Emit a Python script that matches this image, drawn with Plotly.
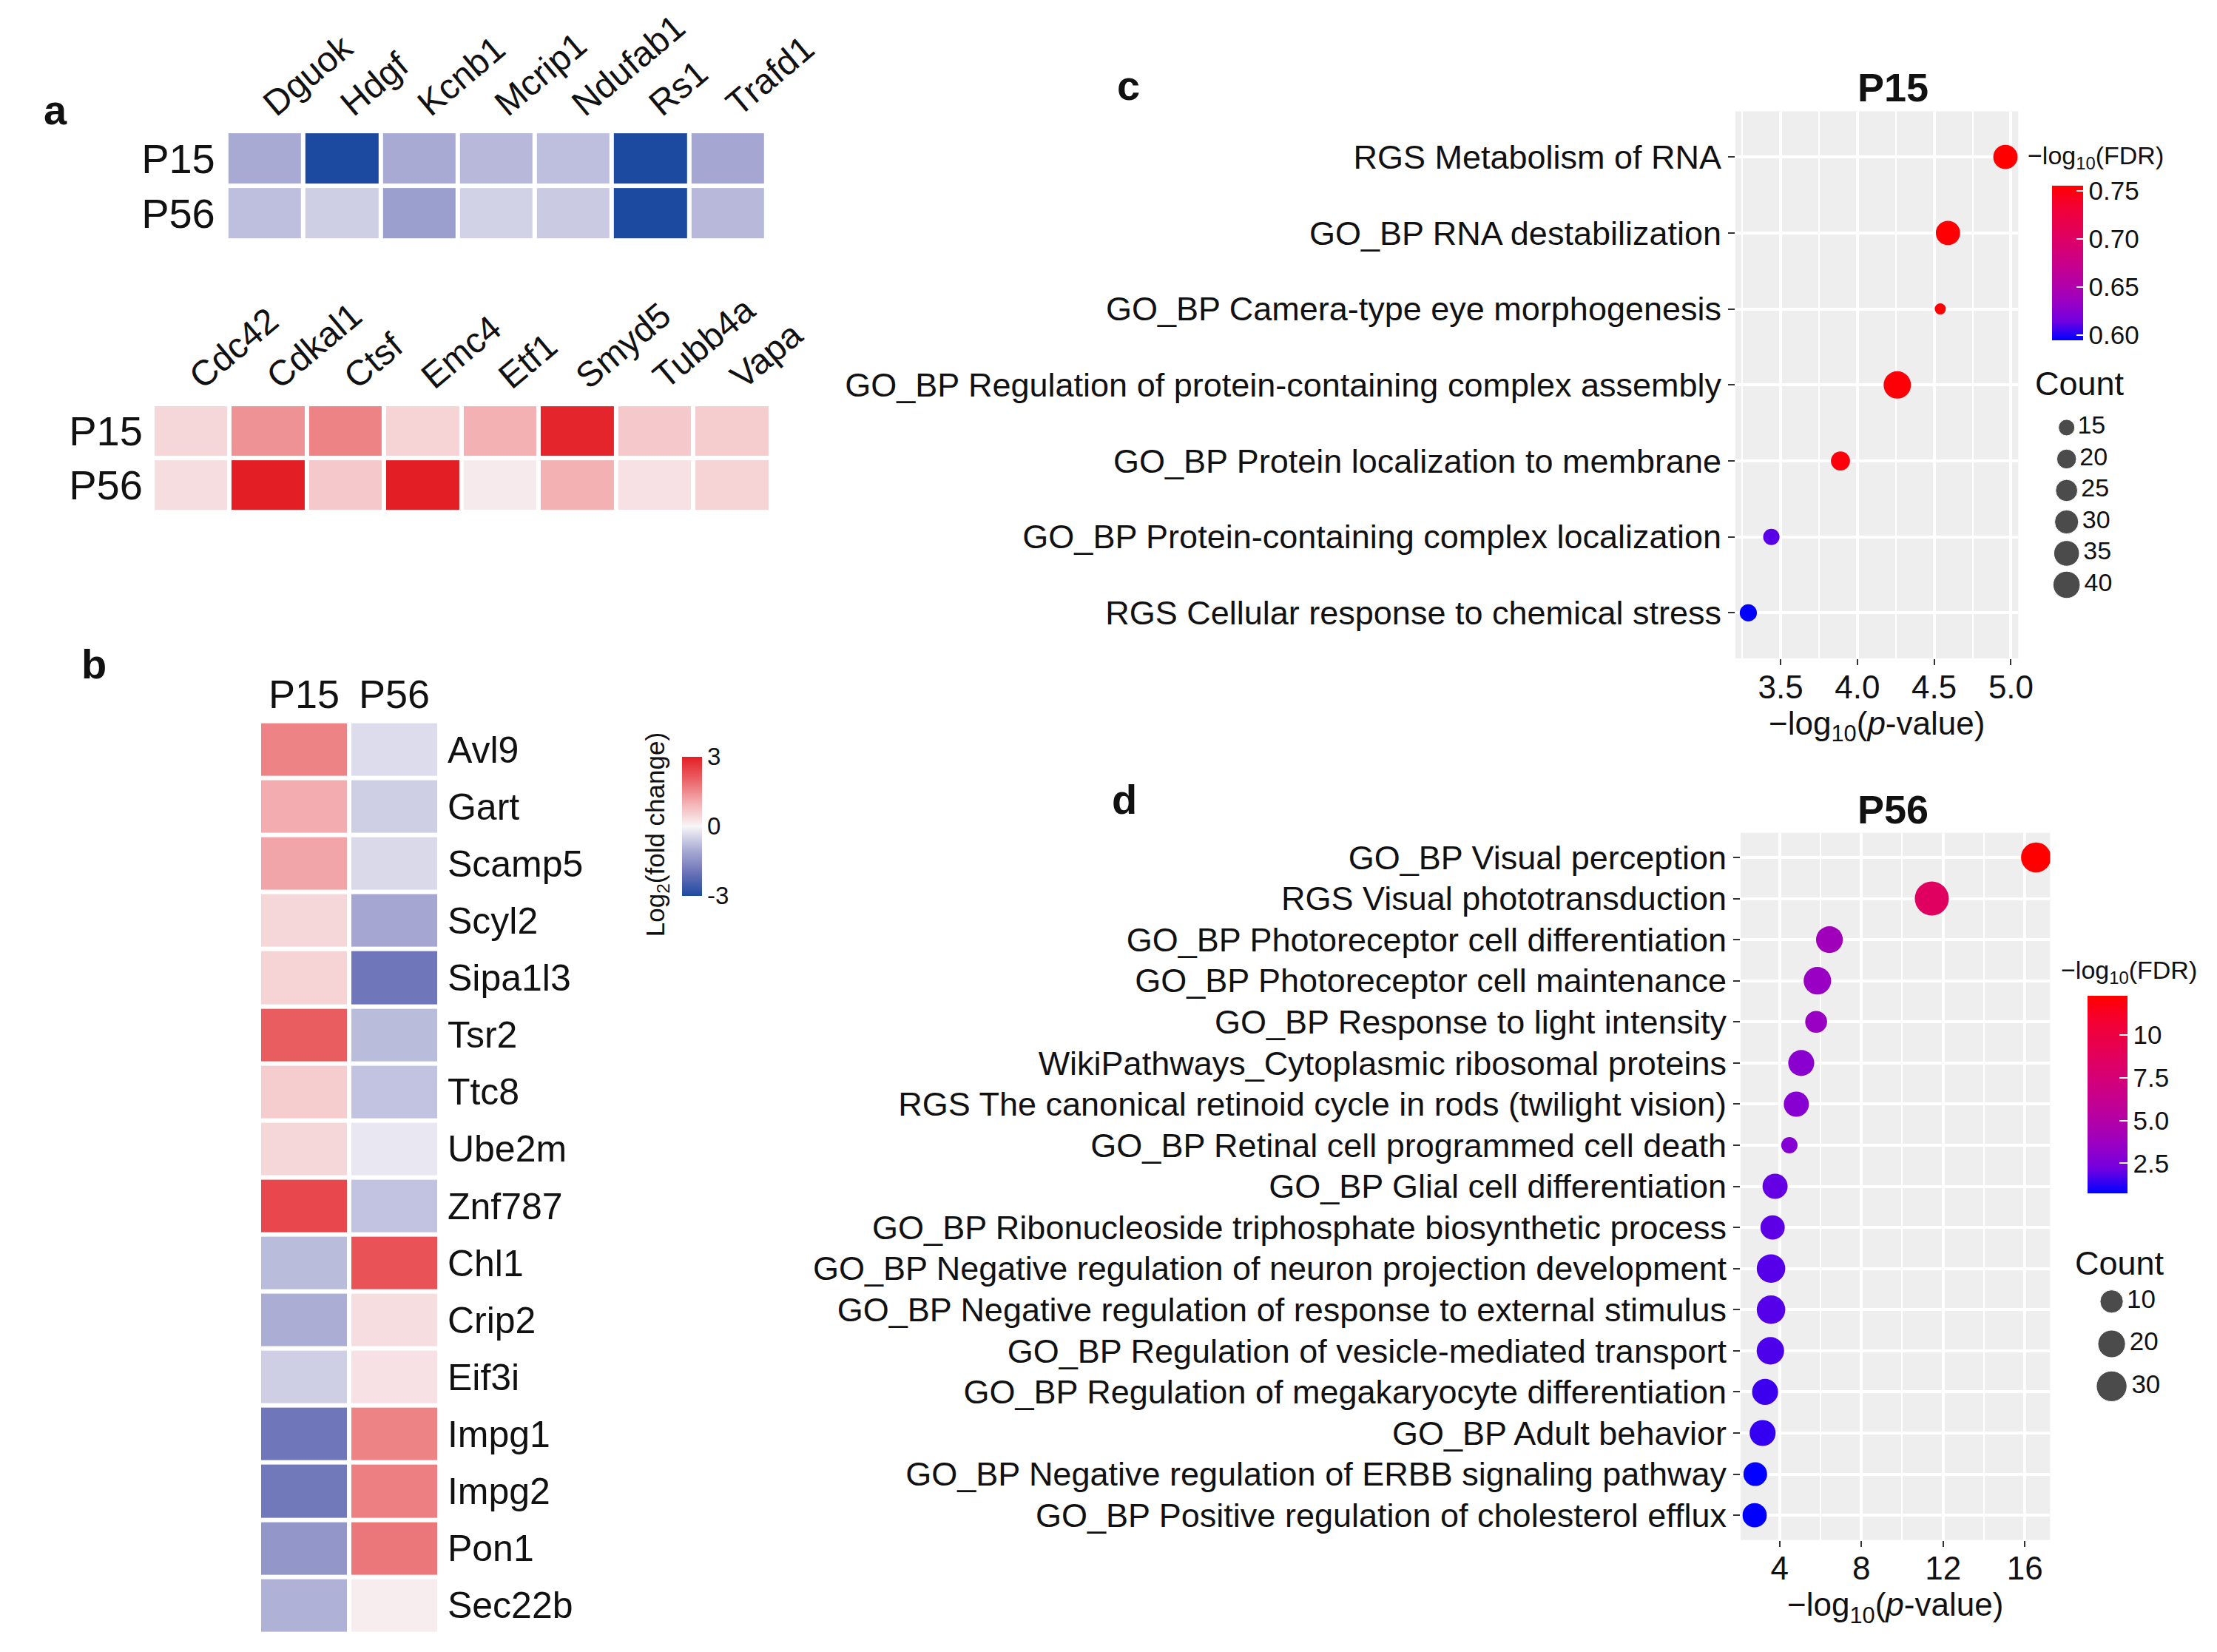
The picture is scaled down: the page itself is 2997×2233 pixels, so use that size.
import math
import plotly.graph_objects as go

W, H = 2997, 2233
DW, DH = 1560.0, 1162.0   # layout grid (reference at half scale)
S = W / DW


def fx(d):
    return d / DW


def fy(d):
    return 1 - d / DH


# ------------------------------------------------------------------ data
stages = ["P15", "P56"]

a_top_genes = ["Dguok", "Hdgf", "Kcnb1", "Mcrip1", "Ndufab1", "Rs1", "Trafd1"]
a_top_p15 = [-1.05, -3.0, -1.05, -0.85, -0.75, -3.0, -1.1]
a_top_p56 = [-0.75, -0.55, -1.25, -0.5, -0.6, -3.0, -0.85]

a_bot_genes = ["Cdc42", "Cdkal1", "Ctsf", "Emc4", "Etf1", "Smyd5", "Tubb4a", "Vapa"]
a_bot_p15 = [0.45, 1.4, 1.6, 0.5, 1.0, 2.9, 0.65, 0.6]
a_bot_p56 = [0.35, 3.0, 0.65, 3.0, 0.18, 1.0, 0.3, 0.5]

b_genes = ["Avl9", "Gart", "Scamp5", "Scyl2", "Sipa1l3", "Tsr2", "Ttc8", "Ube2m",
           "Znf787", "Chl1", "Crip2", "Eif3i", "Impg1", "Impg2", "Pon1", "Sec22b"]
b_p15 = [1.6, 1.05, 1.15, 0.45, 0.5, 2.1, 0.6, 0.45, 2.4, -0.8, -1.0, -0.55, -1.95, -1.9, -1.4, -0.95]
b_p56 = [-0.35, -0.55, -0.4, -1.1, -1.95, -0.8, -0.7, -0.2, -0.7, 2.25, 0.35, 0.3, 1.6, 1.65, 1.75, 0.15]
fc_ticks = [-3, 0, 3]

c_terms = ["RGS Metabolism of RNA",
           "GO_BP RNA destabilization",
           "GO_BP Camera-type eye morphogenesis",
           "GO_BP Regulation of protein-containing complex assembly",
           "GO_BP Protein localization to membrane",
           "GO_BP Protein-containing complex localization",
           "RGS Cellular response to chemical stress"]
c_pval = [4.964, 4.59, 4.54, 4.26, 3.89, 3.44, 3.29]
c_fdr = [0.7548, 0.7535, 0.753, 0.752, 0.750, 0.61, 0.5944]
c_count = [31, 31, 12, 41, 19, 15, 16]
c_legend_counts = [15, 20, 25, 30, 35, 40]
c_fdr_ticks = [0.60, 0.65, 0.70, 0.75]
c_x_ticks = [3.5, 4.0, 4.5, 5.0]

d_terms = ["GO_BP Visual perception",
           "RGS Visual phototransduction",
           "GO_BP Photoreceptor cell differentiation",
           "GO_BP Photoreceptor cell maintenance",
           "GO_BP Response to light intensity",
           "WikiPathways_Cytoplasmic ribosomal proteins",
           "RGS The canonical retinoid cycle in rods (twilight vision)",
           "GO_BP Retinal cell programmed cell death",
           "GO_BP Glial cell differentiation",
           "GO_BP Ribonucleoside triphosphate biosynthetic process",
           "GO_BP Negative regulation of neuron projection development",
           "GO_BP Negative regulation of response to external stimulus",
           "GO_BP Regulation of vesicle-mediated transport",
           "GO_BP Regulation of megakaryocyte differentiation",
           "GO_BP Adult behavior",
           "GO_BP Negative regulation of ERBB signaling pathway",
           "GO_BP Positive regulation of cholesterol efflux"]
d_pval = [16.55, 11.45, 6.44, 5.85, 5.79, 5.06, 4.82, 4.48, 3.78, 3.66, 3.58, 3.58, 3.55, 3.29, 3.17, 2.81, 2.78]
d_fdr = [12.26, 8.6, 4.0, 3.6, 3.6, 3.0, 2.9, 2.8, 2.0, 1.9, 1.8, 1.8, 1.7, 1.5, 1.4, 0.75, 0.73]
d_count = [28, 44, 18, 20, 8, 16, 14, 4, 14, 12, 23, 23, 20, 16, 16, 11, 12]
d_legend_counts = [10, 20, 30]
d_fdr_ticks = [2.5, 5.0, 7.5, 10]
d_fdr_ticktext = ["2.5", "5.0", "7.5", "10"]
d_x_ticks = [4, 8, 12, 16]

# ------------------------------------------------------------------ styles
FONT = "Liberation Sans, Arial, Helvetica, sans-serif"
TXT = "#111111"

hm_scale = [[0, "#1D4AA1"], [1 / 6, "#6C73B7"], [1 / 3, "#ABADD5"], [0.5, "#F8F6F8"],
            [2 / 3, "#F3B1B4"], [5 / 6, "#EA6468"], [1, "#E41E25"]]
lab_scale = [[0, "#0000FF"], [0.125, "#7300E0"], [0.25, "#9A00C3"], [0.375, "#B500A5"],
             [0.5, "#C90089"], [0.625, "#DA006C"], [0.75, "#E8004F"], [0.875, "#F40031"],
             [1, "#FF0000"]]


def area_sizes(counts, lo, hi, dmin, dmax):
    return [dmin + (dmax - dmin) * math.sqrt((c - lo) / (hi - lo)) for c in counts]


def expand(vals, f=0.05):
    lo, hi = min(vals), max(vals)
    r = hi - lo
    return [lo - f * r, hi + f * r]


c_lo, c_hi = min(c_count), max(c_count)
d_lo, d_hi = min(d_count), max(d_count)
C_DMIN, C_DMAX = 15, 37
D_DMIN, D_DMAX = 22, 46

fig = go.Figure()

# ---------------- panel a heatmaps
fig.add_trace(go.Heatmap(z=[a_top_p15, a_top_p56], x=a_top_genes, y=stages,
                         coloraxis="coloraxis", xgap=6, ygap=6, xaxis="x", yaxis="y"))
fig.add_trace(go.Heatmap(z=[a_bot_p15, a_bot_p56], x=a_bot_genes, y=stages,
                         coloraxis="coloraxis", xgap=6, ygap=6, xaxis="x2", yaxis="y2"))
# ---------------- panel b heatmap
fig.add_trace(go.Heatmap(z=[list(r) for r in zip(b_p15, b_p56)], x=stages, y=b_genes,
                         coloraxis="coloraxis", xgap=6, ygap=6, xaxis="x3", yaxis="y3"))

# ---------------- panel c dots
fig.add_trace(go.Scatter(x=c_pval, y=c_terms, mode="markers", xaxis="x4", yaxis="y4",
                         marker=dict(size=area_sizes(c_count, c_lo, c_hi, C_DMIN, C_DMAX),
                                     color=c_fdr, coloraxis="coloraxis2", opacity=1,
                                     line=dict(width=0)),
                         showlegend=False))
# ---------------- panel d dots
fig.add_trace(go.Scatter(x=d_pval, y=d_terms, mode="markers", xaxis="x5", yaxis="y5",
                         marker=dict(size=area_sizes(d_count, d_lo, d_hi, D_DMIN, D_DMAX),
                                     color=d_fdr, coloraxis="coloraxis3", opacity=1,
                                     line=dict(width=0)),
                         showlegend=False))

# ---------------- size legends
fig.add_trace(go.Scatter(x=["Count"] * len(c_legend_counts), y=[str(v) for v in c_legend_counts],
                         mode="markers+text", text=[str(v) for v in c_legend_counts],
                         textposition="middle right",
                         textfont=dict(size=34, color=TXT, family=FONT),
                         marker=dict(size=area_sizes(c_legend_counts, c_lo, c_hi, C_DMIN, C_DMAX),
                                     color="black"),
                         xaxis="x6", yaxis="y6", showlegend=False, cliponaxis=False))
fig.add_trace(go.Scatter(x=["Count"] * len(d_legend_counts), y=[str(v) for v in d_legend_counts],
                         mode="markers+text", text=[str(v) for v in d_legend_counts],
                         textposition="middle right",
                         textfont=dict(size=35, color=TXT, family=FONT),
                         marker=dict(size=area_sizes(d_legend_counts, d_lo, d_hi, D_DMIN, D_DMAX),
                                     color="black"),
                         xaxis="x7", yaxis="y7", showlegend=False, cliponaxis=False))

# ------------------------------------------------------------------ axes
hm_x = dict(showgrid=False, zeroline=False, showline=False, ticks="", type="category",
            automargin=False)
hm_y = dict(showgrid=False, zeroline=False, showline=False, ticks="", type="category",
            autorange="reversed", automargin=False)

layout = dict(
    template="none",
    width=W, height=H, autosize=False,
    margin=dict(l=0, r=0, t=0, b=0, pad=0),
    paper_bgcolor="white", plot_bgcolor="white",
    font=dict(family=FONT, color=TXT),
    showlegend=False,
    xaxis=dict(hm_x, domain=[fx(155), fx(535)], anchor="y", side="top", tickangle=-40,
               tickfont=dict(size=48), ticklabelstandoff=2),
    yaxis=dict(hm_y, domain=[fy(165), fy(88)], anchor="x", tickfont=dict(size=56),
               ticklabelstandoff=14),
    xaxis2=dict(hm_x, domain=[fx(103), fx(538)], anchor="y2", side="top", tickangle=-40,
                tickfont=dict(size=48), ticklabelstandoff=2),
    yaxis2=dict(hm_y, domain=[fy(356), fy(280)], anchor="x2", tickfont=dict(size=56),
                ticklabelstandoff=12),
    xaxis3=dict(hm_x, domain=[fx(178), fx(305)], anchor="y3", side="top",
                tickfont=dict(size=54), ticklabelstandoff=6),
    yaxis3=dict(hm_y, domain=[fy(1145), fy(503)], anchor="x3", side="right",
                tickfont=dict(size=50), ticklabelstandoff=10),
)

sc_common_x = dict(showgrid=True, gridcolor="white", gridwidth=4, zeroline=False,
                   showline=False, ticks="outside", ticklen=8, tickwidth=2,
                   tickcolor="#333333", tickfont=dict(size=44, color=TXT), automargin=False,
                   ticklabelstandoff=-8)
sc_common_y = dict(type="category", showgrid=True, gridcolor="white", gridwidth=4,
                   zeroline=False, showline=False, ticks="outside", ticklen=9,
                   tickwidth=2, tickcolor="#333333", tickfont=dict(size=45, color=TXT),
                   automargin=False)

layout["xaxis4"] = dict(sc_common_x, domain=[fx(1217), fx(1416)], anchor="y4",
                        range=expand(c_pval), tickvals=c_x_ticks,
                        ticktext=[f"{v:.1f}" for v in c_x_ticks],
                        minor=dict(dtick=0.25, tick0=3.5, showgrid=True, gridcolor="white",
                                   gridwidth=2, ticks=""),
                        title=dict(text="−log<sub>10</sub>(<i>p</i>-value)",
                                   font=dict(size=44, color=TXT), standoff=8))
layout["yaxis4"] = dict(sc_common_y, domain=[fy(459), fy(74.2)], anchor="x4",
                        categoryorder="array", categoryarray=c_terms,
                        range=[len(c_terms) - 0.4, -0.6])
layout["xaxis5"] = dict(sc_common_x, domain=[fx(1220.6), fx(1438.4)], anchor="y5",
                        range=expand(d_pval), tickvals=d_x_ticks,
                        minor=dict(dtick=2, tick0=0, showgrid=True, gridcolor="white",
                                   gridwidth=2, ticks=""),
                        title=dict(text="−log<sub>10</sub>(<i>p</i>-value)",
                                   font=dict(size=44, color=TXT), standoff=6))
layout["yaxis5"] = dict(sc_common_y, domain=[fy(1079), fy(581.6)], anchor="x5",
                        categoryorder="array", categoryarray=d_terms,
                        range=[len(d_terms) - 0.4, -0.6])

hidden = dict(visible=False, showgrid=False, zeroline=False, fixedrange=True, automargin=False)
layout["xaxis6"] = dict(hidden, domain=[fx(1440), fx(1460)], anchor="y6", type="category")
layout["yaxis6"] = dict(hidden, domain=[fy(426.3), fy(282.2)], anchor="x6", type="category",
                        autorange="reversed")
layout["xaxis7"] = dict(hidden, domain=[fx(1471.7), fx(1491.7)], anchor="y7", type="category")
layout["yaxis7"] = dict(hidden, domain=[fy(989), fy(896.5)], anchor="x7", type="category",
                        autorange="reversed")

# ------------------------------------------------------------------ colour axes
layout["coloraxis"] = dict(
    colorscale=hm_scale, cmin=-3, cmax=3,
    colorbar=dict(x=fx(476), xanchor="left", y=fy(528), yanchor="top",
                  len=(626 - 528) / DH, lenmode="fraction", thickness=14 * S,
                  xpad=0, ypad=0, outlinewidth=0, ticks="", tickvals=fc_ticks,
                  ticktext=[str(v) for v in fc_ticks],
                  tickfont=dict(size=33, color=TXT)))
layout["coloraxis2"] = dict(
    colorscale=lab_scale, cmin=min(c_fdr), cmax=max(c_fdr),
    colorbar=dict(x=fx(1439.5), xanchor="left", y=fy(126.7), yanchor="top",
                  len=(235.3 - 126.7) / DH, lenmode="fraction", thickness=21.7 * S,
                  xpad=0, ypad=0, outlinewidth=0, ticks="inside", ticklen=9,
                  tickwidth=2, tickcolor="white", tickvals=c_fdr_ticks,
                  ticktext=[f"{v:.2f}" for v in c_fdr_ticks],
                  tickfont=dict(size=35, color=TXT)))
layout["coloraxis3"] = dict(
    colorscale=lab_scale, cmin=min(d_fdr), cmax=max(d_fdr),
    colorbar=dict(x=fx(1464.6), xanchor="left", y=fy(696.5), yanchor="top",
                  len=(835.3 - 696.5) / DH, lenmode="fraction", thickness=28.2 * S,
                  xpad=0, ypad=0, outlinewidth=0, ticks="inside", ticklen=11,
                  tickwidth=2, tickcolor="white", tickvals=d_fdr_ticks,
                  ticktext=d_fdr_ticktext, tickfont=dict(size=35, color=TXT)))

# ------------------------------------------------------------------ panel backgrounds
layout["shapes"] = [
    dict(type="rect", xref="x4 domain", yref="y4 domain", x0=0, x1=1, y0=0, y1=1,
         fillcolor="#EEEEEE", line=dict(width=0), layer="below"),
    dict(type="rect", xref="x5 domain", yref="y5 domain", x0=0, x1=1, y0=0, y1=1,
         fillcolor="#EEEEEE", line=dict(width=0), layer="below"),
]


def ann(text, x, y, size, bold=False, xanchor="center", angle=0):
    return dict(text=f"<b>{text}</b>" if bold else text, x=fx(x), y=fy(y), xref="paper",
                yref="paper", xanchor=xanchor, yanchor="middle", showarrow=False,
                textangle=angle, font=dict(size=size, color=TXT, family=FONT))


layout["annotations"] = [
    ann("a", 35, 73, 56, bold=True),
    ann("b", 62, 463, 56, bold=True),
    ann("c", 790, 56, 56, bold=True),
    ann("d", 787, 558, 56, bold=True),
    ann("P15", 1328, 57, 54, bold=True),
    ann("P56", 1328, 565, 54, bold=True),
    ann("Log<sub>2</sub>(fold change)", 458, 583, 35, angle=-90),
    ann("−log<sub>10</sub>(FDR)", 1421.7, 106.4, 34, xanchor="left"),
    ann("−log<sub>10</sub>(FDR)", 1445, 679.6, 34, xanchor="left"),
    ann("Count", 1427, 265.8, 45, xanchor="left"),
    ann("Count", 1455, 884.4, 45, xanchor="left"),
]

fig.update_layout(layout)
fig.write_html("out.html")
